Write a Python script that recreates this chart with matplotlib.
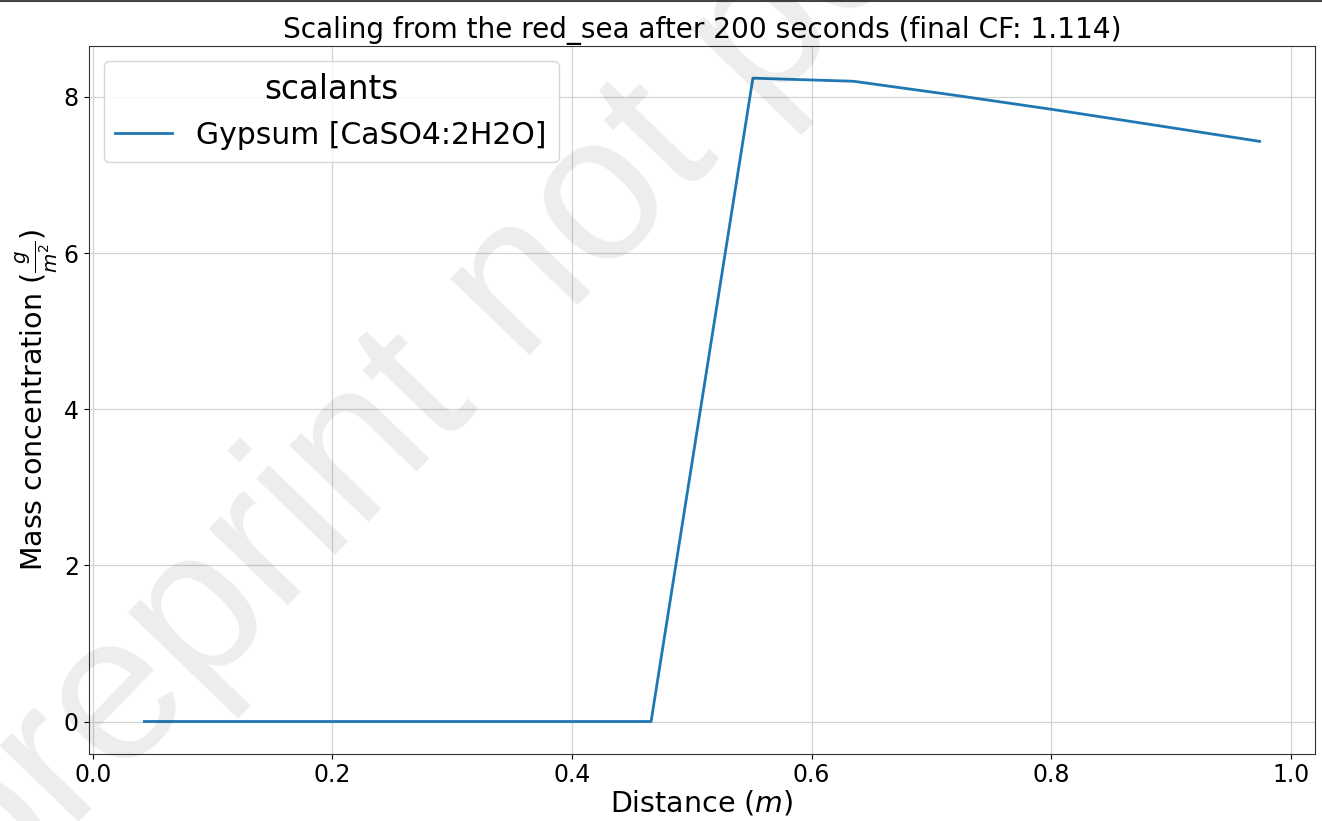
import matplotlib
matplotlib.use("Agg")
import matplotlib.pyplot as plt
from matplotlib.lines import Line2D

# cell centres along the channel (m) and gypsum deposit (g/m^2)
distance = [0.043, 0.127, 0.212, 0.297, 0.381, 0.466,
            0.551, 0.635, 0.720, 0.805, 0.890, 0.974]
gypsum = [0.0, 0.0, 0.0, 0.0, 0.0, 0.0,
          8.24, 8.20, 8.02, 7.83, 7.63, 7.43]

feed = "red_sea"
t_end = 200
final_cf = 1.114

fig, ax = plt.subplots(figsize=(13.22, 8.21), dpi=100)
fig.subplots_adjust(left=0.067, right=0.995, top=0.944, bottom=0.082)

ax.plot(distance, gypsum, color="#1f77b4", lw=2, label="Gypsum [CaSO4:2H2O]")
ax.grid(True, color="#d3d3d3", lw=0.9)
ax.set_axisbelow(True)

ax.set_title(f"Scaling from the {feed} after {t_end} seconds (final CF: {final_cf})", fontsize=20.2)
ax.set_xlabel("Distance ($m$)", fontsize=20.5, labelpad=1)
ax.set_ylabel(r"Mass concentration ($\frac{g}{m^2}$)", fontsize=20.5, labelpad=3)
ax.tick_params(labelsize=17)
for s in ax.spines.values():
    s.set_color("#333333")

leg = ax.legend(title="scalants", loc="upper left", fontsize=21.5, title_fontsize=23.5,
                handlelength=1.9)

# watermark stamped over the page
fig.text(-0.008, -0.115, "preprint not peer reviewed", fontsize=150,
         family="Liberation Sans", color="#000000", alpha=0.075,
         rotation=46, rotation_mode="anchor", ha="left", va="baseline", zorder=10)
fig.add_artist(Line2D([0, 1], [0.999, 0.999], color="#444444", lw=1.5))

fig.savefig("out.png")
